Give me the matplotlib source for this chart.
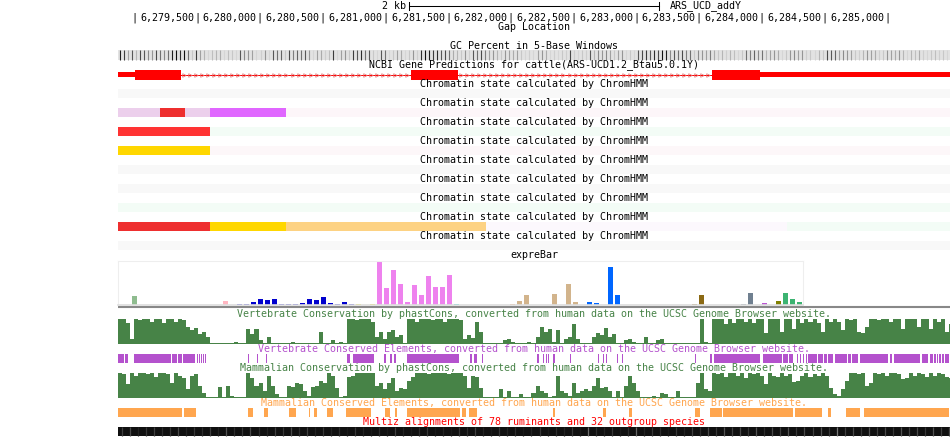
import numpy as np
import matplotlib
matplotlib.use("Agg")
import matplotlib.pyplot as plt
from matplotlib.transforms import offset_copy

# ---- data ----
chrom_name = "ARS_UCD_addY"
win_start, win_end = 6278870, 6285502
scale_bp = 2000
ruler_ticks = [6279000, 6279500, 6280000, 6280500, 6281000, 6281500, 6282000,
               6282500, 6283000, 6283500, 6284000, 6284500, 6285000]

# GC percent (darkness 0..1) in 32 bp bins
gc_bin = 32
gc_vals = [0.9, 0.8, 0.4, 0.7, 0.3, 0.75, 0.7, 0.5, 0.45, 0.75, 0.6, 0.5, 0.6, 0.9, 0.95, 0.85,
           0.95, 0.6, 0.2, 0.8, 0.4, 0.3, 0.1, 0.25, 0.3, 0.35, 0.1, 0.25, 0.2, 0.1, 0.7, 0.5,
           0.45, 0.4, 0.1, 0.15, 0.45, 0.1, 0.7, 0.6, 0.65, 0.2, 0.75, 0.55, 0.65, 0.6, 0.7, 0.45,
           0.1, 0.4, 0.35, 0.15, 0.25, 0.8, 0.1, 0.4, 0.45, 0.2, 0.8, 0.7, 0.85, 0.6, 0.7, 0.2,
           0.1, 0.7, 0.6, 0.1, 0.2, 0.4, 0.35, 0.1, 0.2, 0.45, 0.15, 0.85, 0.95, 0.9, 0.8, 0.85,
           0.7, 0.75, 0.6, 0.35, 0.3, 0.2, 0.45, 0.15, 0.7, 0.6, 0.75, 0.55, 0.4, 0.45, 0.3, 0.2,
           0.45, 0.4, 0.35, 0.4, 0.2, 0.1, 0.15, 0.1, 0.4, 0.45, 0.35, 0.1, 0.15, 0.1, 0.2, 0.15,
           0.75, 0.15, 0.1, 0.2, 0.15, 0.7, 0.3, 0.5, 0.45, 0.5, 0.4, 0.2, 0.4, 0.45, 0.1, 0.2,
           0.1, 0.7, 0.75, 0.8, 0.7, 0.85, 0.75, 0.95, 0.9, 0.5, 0.7, 0.6, 0.75, 0.55, 0.6, 0.2,
           0.5, 0.45, 0.4, 0.55, 0.35, 0.2, 0.3, 0.15, 0.3, 0.25, 0.1, 0.2, 0.6, 0.55, 0.65, 0.5,
           0.6, 0.3, 0.4, 0.45, 0.35, 0.1, 0.2, 0.45, 0.5, 0.4, 0.45, 0.15, 0.2, 0.1, 0.3, 0.2,
           0.75, 0.7, 0.65, 0.4, 0.5, 0.45, 0.4, 0.2, 0.15, 0.3, 0.45, 0.4, 0.35, 0.15, 0.2, 0.45,
           0.4, 0.35, 0.45, 0.3, 0.1, 0.3, 0.25, 0.35, 0.15, 0.1, 0.2, 0.25, 0.15, 0.2, 0.1, 0.15]

# NCBI gene model
exon_starts = [6278700, 6281206, 6283605]
exon_ends = [6279372, 6281580, 6285700]
cds_start, cds_end = 6279005, 6283987

# chromatin states, one list of (start, end, colour) per track
chrom_tracks = [
    [(win_start, win_end, "#f8f8f8")],
    [(win_start, 6279205, "#eccfec"), (6279205, 6279404, "#ee2f2f"), (6279404, 6279603, "#eccfec"),
     (6279603, 6280209, "#e066ff"), (6280209, win_end, "#fdf6f9")],
    [(win_start, 6279603, "#ff3333"), (6279603, win_end, "#f3fcf6")],
    [(win_start, 6279603, "#ffd700"), (6279603, win_end, "#fdf7f9")],
    [(win_start, win_end, "#f8f8f8")],
    [(win_start, win_end, "#f8f8f8")],
    [(win_start, win_end, "#f3fcf6")],
    [(win_start, 6279603, "#ee2f2f"), (6279603, 6280209, "#ffd700"), (6280209, 6281803, "#fdd283"),
     (6281803, 6284203, "#fcf8fd"), (6284203, win_end, "#f3fcf6")],
    [(win_start, win_end, "#f8f8f8")],
]

# expreBar: tissue slot, value, colour
expre_slots = [0, 13, 15, 16, 17, 18, 19, 20, 21, 22, 23, 24, 25, 26, 27, 28, 29, 30, 31,
               32, 34, 35, 36, 37, 38, 39, 40, 41, 42, 43, 44, 45, 46, 54, 55, 56, 60, 62, 63,
               65, 66, 68, 69, 80, 81, 87, 88, 90, 92, 93, 94, 95]
expre_values = [9, 4, 1, 1, 3, 6, 5, 6, 1, 1, 1, 2, 6, 5, 8, 2, 1, 3, 1,
                1, 1, 44, 17, 35, 21, 3, 20, 10, 29, 18, 18, 30, 1, 1, 4, 10, 11, 21, 3,
                3, 2, 38, 10, 1, 10, 1, 12, 2, 4, 12, 6, 3]
expre_colors = (["#8fbc8f", "#ffb6c1"] + ["#0000cd"] * 17 + ["#eeee00"] * 2 + ["#ee82ee"] * 11
                + ["#00ced1", "#f4a460"] + ["#d2b48c"] * 5 + ["#0066ff"] * 4 + ["#8b6914"] * 2
                + ["#708090"] * 2 + ["#ba55d3", "#808000"] + ["#3cb371"] * 3)
expre_nslots = 685 / 7

# phastCons scores (0..1) in 32 bp bins
cons_bin = 32
vert_cons = [1.0, 1.0, 0.85, 0.2,
             1.0, 0.95, 1.0, 1.0, 0.9, 1.0, 1.0, 0.85, 1.0, 1.0, 0.9, 1.0, 0.95,
             0.7, 0.55, 0.65, 0.4, 0.5, 0.3,
             0.03, 0.03, 0.04, 0.03, 0.05, 0.03, 0.1, 0.04, 0.03,
             0.6, 0.4, 0.6, 0.15, 0.05, 0.3,
             0.04, 0.03, 0.03, 0.05, 0.03, 0.1, 0.04, 0.03, 0.03, 0.05, 0.04, 0.03,
             0.5, 0.05, 0.03, 0.15, 0.04, 0.1, 0.05,
             1.0, 1.0, 0.95, 1.0, 1.0, 1.0, 0.9,
             0.3, 0.5, 0.2, 0.5, 0.55, 0.3, 0.35, 0.05,
             1.0, 1.0, 0.9, 1.0, 1.0, 1.0, 0.95, 1.0, 1.0, 0.9, 1.0, 1.0, 1.0, 0.95,
             0.2, 0.35, 0.25, 0.9, 0.5,
             0.05, 0.03, 0.04, 0.03, 0.05,
             0.15, 0.2, 0.1, 0.05, 0.04,
             0.05, 0.1, 0.04, 0.3,
             0.7, 0.5, 0.6, 0.1, 0.55, 0.05, 0.2,
             0.3, 0.8, 0.2,
             0.04, 0.03, 0.04,
             0.3, 0.45, 0.35, 0.65, 0.3, 0.4,
             0.04, 0.03, 0.15, 0.2, 0.1,
             0.04, 0.03, 0.3, 0.04, 0.03, 0.15,
             0.2, 0.05, 0.03, 0.03, 0.02, 0.02, 0.02, 0.02, 0.03, 0.05,
             1.0, 0.1, 0.05,
             1, 1, 1, 0.8, 1, 0.85, 1, 1, 0.9, 1, 0.85, 1, 1, 0.45, 1, 1, 1, 0.5, 1, 1,
             0.6, 1, 0.85, 1, 0.9, 1, 0.85, 0.5, 1, 0.9, 1, 0.9, 0.55, 1, 0.95, 1, 0.5, 0.45, 0.7, 1,
             1, 0.95, 1, 1, 0.9, 1, 1, 0.6, 1, 1, 1, 0.7, 1, 1, 0.6, 1, 0.9, 1, 0.5, 0.8]
mam_cons = [1.0, 0.95, 0.55, 1.0, 0.9,
            1.0, 1.0, 0.95, 1.0, 0.85, 1.0, 1.0, 0.95, 0.6, 1.0, 0.9, 0.8,
            0.35, 0.9, 0.95, 0.5, 0.2,
            0.03, 0.03, 0.04,
            0.45, 0.05, 0.5, 0.1,
            0.04, 0.03, 0.05,
            1.0, 0.8, 0.5, 0.6, 0.3, 0.9, 0.5, 0.15,
            0.04, 0.05,
            0.5, 0.45, 0.6, 0.55, 0.3, 0.1, 0.45, 0.5, 0.7, 0.6, 1.0, 0.9, 0.4, 0.05, 0.1,
            0.85, 0.9, 1.0, 1.0, 1.0, 1.0, 1.0,
            0.5, 0.6, 0.35, 0.6, 0.8, 0.3, 0.4, 0.35, 0.7, 0.85,
            1.0, 1.0, 1.0, 0.95, 1.0, 1.0, 1.0, 1.0, 0.95, 1.0, 1.0, 1.0,
            0.9, 0.4, 0.9, 0.85, 0.4,
            0.05, 0.03, 0.04, 0.05, 0.35, 0.05, 0.3, 0.05, 0.05, 0.15, 0.05, 0.05,
            0.2, 0.5, 0.3, 0.2, 0.05, 0.1, 0.9, 0.3, 0.2, 0.1, 0.6, 0.2,
            0.3, 0.35, 0.3, 0.5, 0.8, 0.4, 0.45, 0.3,
            0.05, 0.3, 0.05, 0.5, 0.9, 0.6, 0.3,
            0.04, 0.03, 0.05, 0.1, 0.04,
            0.2, 0.15, 0.03, 0.03, 0.3, 0.05, 0.03, 0.03, 0.03,
            0.6, 1.0, 0.35, 0.3,
            1, 0.95, 1, 0.85, 1, 1, 0.9, 1, 0.8, 1, 0.95, 1, 0.9,
            0.55,
            1, 0.9, 0.85, 1, 0.9, 0.95,
            0.65, 0.7,
            0.9, 1, 0.85, 0.95, 0.9, 1, 0.9,
            0.4, 0.15, 0.1, 0.35, 0.7,
            1, 1, 0.95, 1,
            0.5, 0.6,
            1, 0.95, 1, 0.9, 1, 1, 0.95,
            0.75, 0.8,
            1, 0.9, 1, 0.95, 0.85, 1, 0.9, 1, 0.95, 0.85, 0.8]

# conserved elements (start, end)
vert_elements = [(6278870, 6278918), (6278926, 6278950), (6278998, 6279292), (6279300, 6279340),
                 (6279348, 6279380), (6279388, 6279484), (6279500, 6279508), (6279516, 6279524),
                 (6279532, 6279540), (6279548, 6279556), (6279564, 6279572), (6279906, 6279914),
                 (6279978, 6279986), (6280050, 6280058), (6280695, 6280719), (6280743, 6280911),
                 (6280990, 6281006), (6281038, 6281054), (6281070, 6281086), (6281174, 6281588),
                 (6281676, 6281692), (6281708, 6281732), (6281771, 6281779), (6282210, 6282226),
                 (6282258, 6282266), (6282282, 6282290), (6282298, 6282306), (6282337, 6282353),
                 (6282473, 6282481), (6282696, 6282704), (6282736, 6282744), (6282760, 6282768),
                 (6282847, 6282855), (6282887, 6282895), (6283469, 6283477), (6283589, 6283605),
                 (6283621, 6283987), (6284011, 6284163), (6284171, 6284211), (6284219, 6284251),
                 (6284282, 6284291), (6284306, 6284314), (6284330, 6284338), (6284354, 6284362),
                 (6284370, 6284442), (6284450, 6284490), (6284498, 6284522), (6284529, 6284569),
                 (6284585, 6284681), (6284689, 6284713), (6284721, 6284769), (6284784, 6285008),
                 (6285024, 6285040), (6285055, 6285263), (6285279, 6285327), (6285342, 6285366),
                 (6285374, 6285390), (6285398, 6285406), (6285414, 6285430), (6285438, 6285454),
                 (6285462, 6285494)]
mam_elements = [(6278870, 6279380), (6279396, 6279492), (6279906, 6279946), (6280034, 6280066),
                (6280233, 6280289), (6280392, 6280400), (6280432, 6280456), (6280536, 6280584),
                (6280687, 6280887), (6280998, 6281038), (6281078, 6281094), (6281174, 6281596),
                (6281612, 6281644), (6281668, 6281732), (6282337, 6282353), (6282736, 6282760),
                (6282943, 6282967), (6283469, 6283509), (6283589, 6283685), (6283692, 6284251),
                (6284266, 6284482), (6284529, 6284553), (6284673, 6284784), (6284816, 6285494)]

# multiz alignment brightness in 64 bp bins
mz_bin = 64
multiz_vals = [0.25, 0.3, 0.1, 0.2, 0.25, 0.15, 0.2, 0.3, 0.1, 0.2, 0.15, 0.25, 0.1, 0.35, 0.15, 0.2,
               0.3, 0.15, 0.1, 0.25, 0.2, 0.3, 0.15, 0.25, 0.1, 0.2, 0.1, 0.15, 0.05, 0.2, 0.1, 0.05,
               0.15, 0.05, 0.25, 0.1, 0.05, 0.15, 0.2, 0.05, 0.1, 0.05, 0.2, 0.15, 0.25, 0.1, 0.05, 0.2,
               0.1, 0.15, 0.05, 0.1, 0.2, 0.05, 0.15, 0.1, 0.2, 0.05, 0.5, 0.15, 0.1, 0.2, 0.05, 0.15,
               0.45, 0.1, 0.2, 0.15, 0.05, 0.2, 0.1, 0.25, 0.15, 0.3, 0.2, 0.35, 0.25, 0.3, 0.2, 0.35,
               0.15, 0.3, 0.25, 0.35, 0.2, 0.3, 0.25, 0.35, 0.2, 0.55, 0.25, 0.3, 0.2, 0.35, 0.25, 0.3,
               0.2, 0.35, 0.25, 0.3, 0.2, 0.35, 0.25, 0.3]

W, H = 950, 437
plt.rcParams["font.family"] = ["DejaVu Sans Mono"]
plt.rcParams["font.size"] = 7.2

fig = plt.figure(figsize=(W / 100, H / 100), dpi=100)
ax = fig.add_axes([118 / W, 0, 832 / W, 1])
ax.set_xlim(win_start, win_end)
ax.set_ylim(H, 0)
ax.axis("off")
mid = (win_start + win_end) / 2


def track_label(y, s, color="black"):
    ax.text(mid, y, s, ha="center", va="center", color=color)


# scale bar + chrom name
s0, s1 = mid - scale_bp / 2, mid + scale_bp / 2
ax.plot([s0, s1], [6, 6], color="black", lw=0.75)
ax.plot([s0, s0], [2, 10], color="black", lw=0.75)
ax.plot([s1, s1], [2, 10], color="black", lw=0.75)
ax.text(s0, 6, "2 kb", ha="right", va="center",
        transform=offset_copy(ax.transData, fig, x=-3, units="dots"))
ax.text(s1, 6, chrom_name, ha="left", va="center",
        transform=offset_copy(ax.transData, fig, x=10, units="dots"))

# base position ruler
for i, t in enumerate(ruler_ticks):
    ax.text(t, 17.5, "|", ha="center", va="center")
    if i > 0:
        ax.text(t, 17.5, f"{t:,}", ha="right", va="center",
                transform=offset_copy(ax.transData, fig, x=-3, units="dots"))

track_label(27, "Gap Location")

# GC percent
track_label(46, "GC Percent in 5-Base Windows")
ax.fill_between([win_start, win_end], 50, 60, color="#e2e2e2", lw=0)
gc_x = win_start + gc_bin * (np.arange(len(gc_vals)) + 0.5)
gc_col = [str(0.87 * (1 - v ** 1.4)) for v in gc_vals]
ax.vlines(gc_x, 50, 60, colors=gc_col, lw=0.8)

# gene
track_label(65, "NCBI Gene Predictions for cattle(ARS-UCD1.2_Btau5.0.1Y)")
for a, b in zip(exon_ends[:-1], exon_starts[1:]):
    ax.plot([a, b], [74.5, 74.5], color="red", lw=0.72)
    xs = np.arange(a + 25, b - 10, 48)
    ax.plot(xs, np.full(len(xs), 74.5), ls="none", marker=">", ms=2.6,
            mfc="none", mec="#e07070", mew=0.5)
for a, b in zip(exon_starts, exon_ends):
    ts, te = max(a, cds_start), min(b, cds_end)
    if a < ts:
        ax.broken_barh([(a, ts - a)], (72, 5), facecolors="red")
    if te < b:
        ax.broken_barh([(te, b - te)], (72, 5), facecolors="red")
    if ts < te:
        ax.broken_barh([(ts, te - ts)], (69.5, 10), facecolors="red")

# chromatin states
for i, segs in enumerate(chrom_tracks):
    track_label(84 + 19 * i, "Chromatin state calculated by ChromHMM")
    ax.broken_barh([(s, e - s) for s, e, c in segs], (89 + 19 * i, 9),
                   facecolors=[c for s, e, c in segs])

# expreBar
track_label(255, "expreBar")
bx = fig.add_axes([118 / W, 1 - 305 / H, 685 / W, 44 / H])
bx.set_xlim(-2, -2 + expre_nslots)
bx.set_ylim(0, 44)
bx.bar(expre_slots, expre_values, width=5 / 7, align="edge", color=expre_colors)
bx.set_xticks([])
bx.set_yticks([])
for side in ["top", "left", "right"]:
    bx.spines[side].set_color("#eeeeee")
    bx.spines[side].set_linewidth(0.8)
bx.spines["bottom"].set_color("#dddddd")
bx.spines["bottom"].set_linewidth(1.2)
ax.plot([win_start, win_end], [307, 307], color="#888888", lw=1.5)

green = "#478347"


def wiggle(vals, bottom, height, binsize):
    edges = win_start + binsize * np.arange(len(vals) + 1)
    h = np.maximum(np.array(vals) * height, 1)
    ax.stairs(bottom - h, edges, baseline=bottom, fill=True, color=green, lw=0)


track_label(314, "Vertebrate Conservation by phastCons, converted from human data "
                 "on the UCSC Genome Browser website.", green)
wiggle(vert_cons, 344, 25, cons_bin)

track_label(349, "Vertebrate Conserved Elements, converted from human data on the "
                 "UCSC Genome Browser website.", "#b452cd")
ax.broken_barh([(s, e - s) for s, e in vert_elements], (354, 9), facecolors="#b452cd")

track_label(368, "Mammalian Conservation by phastCons, converted from human data "
                 "on the UCSC Genome Browser website.", green)
wiggle(mam_cons, 398, 25, cons_bin)

track_label(403, "Mammalian Conserved Elements, converted from human data on the "
                 "UCSC Genome Browser website.", "#ffa64f")
ax.broken_barh([(s, e - s) for s, e in mam_elements], (408, 9), facecolors="#ffa64f")

# multiz
track_label(422, "Multiz alignments of 78 ruminants and 32 outgroup species", "red")
ax.fill_between([win_start, win_end], 427, 436, color="#101010", lw=0)
mz_x = win_start + mz_bin * (np.arange(len(multiz_vals)) + 0.5)
mz_col = [str(0.06 + 0.75 * v) for v in multiz_vals]
ax.vlines(mz_x, 427, 436, colors=mz_col, lw=0.9)

fig.savefig("out.png", dpi=100)
